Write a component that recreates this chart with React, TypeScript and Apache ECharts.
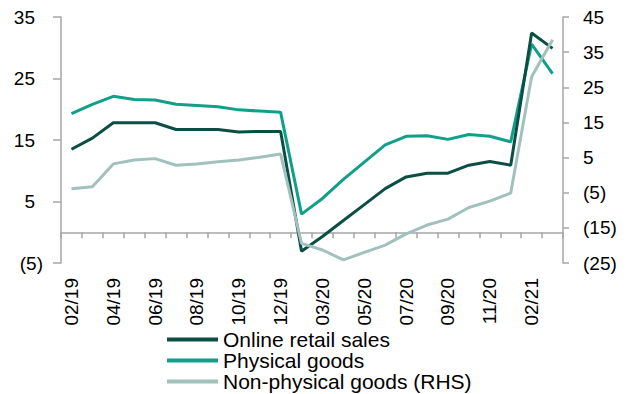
import React, { useEffect, useRef } from "react";
import * as echarts from "echarts";

const categories = [
  "02/19", "03/19", "04/19", "05/19", "06/19", "07/19", "08/19", "09/19", "10/19", "11/19", "12/19",
  "02/20", "03/20", "04/20", "05/20", "06/20", "07/20", "08/20", "09/20", "10/20", "11/20", "12/20",
  "02/21", "03/21",
];

const onlineRetail = [
  13.5, 15.3, 17.8, 17.8, 17.8, 16.7, 16.7, 16.7, 16.3, 16.4, 16.4,
  -3.1, -0.7, 1.9, 4.5, 7.1, 9.0, 9.6, 9.6, 10.9, 11.5, 10.9,
  32.4, 29.9,
];

const physicalGoods = [
  19.3, 20.8, 22.1, 21.6, 21.5, 20.8, 20.6, 20.4, 19.9, 19.7, 19.5,
  2.95, 5.5, 8.6, 11.4, 14.2, 15.6, 15.7, 15.1, 15.9, 15.6, 14.7,
  30.6, 25.8,
];

const nonPhysicalGoods = [
  -3.9, -3.3, 3.2, 4.3, 4.7, 2.8, 3.2, 3.8, 4.3, 5.1, 6.0,
  -19.4, -21.3, -24.1, -22.0, -19.9, -16.7, -14.2, -12.5, -9.2, -7.4, -5.1,
  28.0, 38.5,
];

const seriesNames = ["Online retail sales", "Physical goods", "Non-physical goods (RHS)"];
const colors = ["#0b4f44", "#10a08a", "#a2c1bd"];

const FONT = "'Liberation Sans', Arial, sans-serif";
const AXIS_COLOR = "#a6a6a6";

export default function App() {
  const ref = useRef<HTMLDivElement>(null);

  useEffect(() => {
    if (!ref.current) return;
    const chart = echarts.init(ref.current, undefined, { renderer: "svg" });
    const labelStyle = { fontSize: 19, color: "#000", fontFamily: FONT };
    chart.setOption({
      animation: false,
      textStyle: { fontFamily: FONT },
      grid: { left: 61, right: 66, top: 17, bottom: 131, containLabel: false },
      legend: {
        orient: "vertical",
        left: 167,
        top: 329,
        height: 120,
        padding: 0,
        icon: "rect",
        itemWidth: 51,
        itemHeight: 4,
        itemGap: 0,
        textStyle: { fontSize: 21, lineHeight: 21, color: "#000", fontFamily: FONT },
        data: seriesNames,
      },
      xAxis: {
        type: "category",
        data: categories,
        boundaryGap: true,
        axisLine: { show: true, onZero: true, onZeroAxisIndex: 0, lineStyle: { color: AXIS_COLOR, width: 1.5 } },
        axisTick: { show: true, interval: 0, length: 6, lineStyle: { color: AXIS_COLOR, width: 1.5 } },
        axisLabel: { interval: 1, rotate: 90, margin: 15, ...labelStyle },
        splitLine: { show: false },
      },
      yAxis: [
        {
          type: "value",
          min: -5,
          max: 35,
          interval: 10,
          position: "left",
          axisLine: { show: true, onZero: false, lineStyle: { color: AXIS_COLOR, width: 1.5 } },
          axisTick: { show: true, length: 8, lineStyle: { color: AXIS_COLOR, width: 1.5 } },
          splitLine: { show: false },
          axisLabel: {
            margin: 18,
            ...labelStyle,
            formatter: (v: number) => (v < 0 ? `(${-v})` : `{p|${v}}`),
            rich: { p: { padding: [0, 8, 0, 0], ...labelStyle } },
          },
        },
        {
          type: "value",
          min: -25,
          max: 45,
          interval: 10,
          position: "right",
          axisLine: { show: true, onZero: false, lineStyle: { color: AXIS_COLOR, width: 1.5 } },
          axisTick: { show: true, length: 6, lineStyle: { color: AXIS_COLOR, width: 1.5 } },
          splitLine: { show: false },
          axisLabel: {
            margin: 20,
            ...labelStyle,
            formatter: (v: number) => (v < 0 ? `(${-v})` : `${v}`),
          },
        },
      ],
      series: [
        {
          name: seriesNames[0],
          type: "line",
          data: onlineRetail,
          yAxisIndex: 0,
          symbol: "none",
          lineStyle: { color: colors[0], width: 3 },
          itemStyle: { color: colors[0] },
          z: 3,
        },
        {
          name: seriesNames[1],
          type: "line",
          data: physicalGoods,
          yAxisIndex: 0,
          symbol: "none",
          lineStyle: { color: colors[1], width: 3 },
          itemStyle: { color: colors[1] },
          z: 2,
        },
        {
          name: seriesNames[2],
          type: "line",
          data: nonPhysicalGoods,
          yAxisIndex: 1,
          symbol: "none",
          lineStyle: { color: colors[2], width: 3 },
          itemStyle: { color: colors[2] },
          z: 4,
        },
      ],
    });
    return () => chart.dispose();
  }, []);

  return (
    <div
      ref={ref}
      style={{ position: "fixed", left: 0, top: 0, width: 629, height: 394, background: "#fff" }}
    />
  );
}
